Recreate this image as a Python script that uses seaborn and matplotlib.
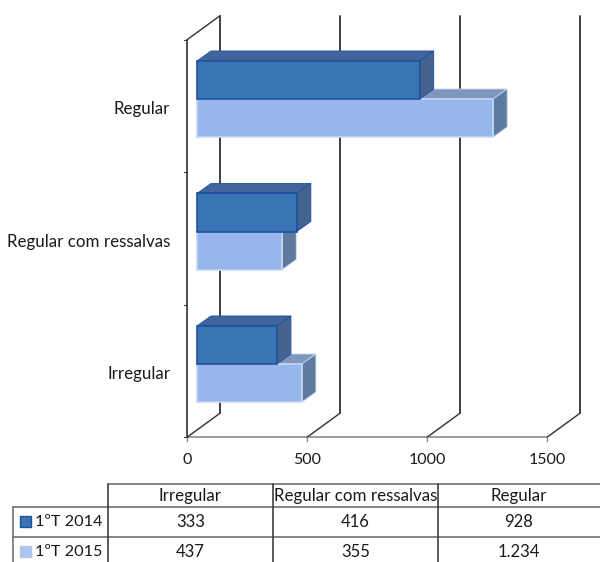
import matplotlib
matplotlib.use("Agg")
import matplotlib.pyplot as plt
from matplotlib.patches import Polygon, Rectangle
import pandas as pd
import seaborn as sns

categories = ["Regular", "Regular com ressalvas", "Irregular"]
table_order = ["Irregular", "Regular com ressalvas", "Regular"]
series = ["1ºT 2014", "1ºT 2015"]
values_2014 = [928, 416, 333]
values_2015 = [1234, 355, 437]
labels_2014 = ["333", "416", "928"]
labels_2015 = ["437", "355", "1.234"]
x_ticks = [0, 500, 1000, 1500]

# pixel scale of the original chart
px_x = 0.24        # px per unit
px_y = 132.5       # px per category
x0_px, y0_px = 197, 99

front = ["#3a75b3", "#96b6ec"]
top = ["#3f659c", "#7f95ba"]
side = ["#44648f", "#5f7a9f"]
edge = ["#1f4f9e", "#c6d6f6"]
swatch = ["#3a75b3", "#b0c4ee"]
axis_col = "#303030"
text_col = "#1a1a1a"

df = pd.DataFrame({
    "cat": categories * 2,
    "serie": [series[0]] * 3 + [series[1]] * 3,
    "val": values_2014 + values_2015,
})

sns.set_theme(style="white")
plt.rcParams["font.family"] = ["Lato", "DejaVu Sans"]
fig = plt.figure(figsize=(6, 5.62), dpi=100)
ax = fig.add_axes([0, 0, 1, 1])

sns.barplot(data=df, y="cat", x="val", hue="serie", order=categories, hue_order=series,
            palette=front, saturation=1, width=0.574, gap=0, legend=False, errorbar=None, ax=ax)
ax.set_xlim(-x0_px / px_x, (600 - x0_px) / px_x)
ax.set_ylim((562 - y0_px) / px_y, -y0_px / px_y)
ax.axis("off")


def dx(p):
    return p / px_x


def dy(p):
    return p / px_y


# 3d faces of the bars, 2015 goes behind 2014
for i, cont in enumerate(ax.containers):
    z = 6 - i * 2
    for bar in cont:
        x1 = bar.get_width()
        ya = bar.get_y()
        yb = ya + bar.get_height()
        ytop, ybot = min(ya, yb), max(ya, yb)
        bar.set_edgecolor(edge[i])
        bar.set_linewidth(1.2)
        bar.set_zorder(z + 0.5)
        ax.add_patch(Polygon([(0, ytop), (dx(14), ytop - dy(10)), (x1 + dx(14), ytop - dy(10)), (x1, ytop)],
                             closed=True, fc=top[i], ec=edge[i], lw=0.6, zorder=z))
        ax.add_patch(Polygon([(x1, ytop), (x1 + dx(14), ytop - dy(10)), (x1 + dx(14), ybot - dy(10)), (x1, ybot)],
                             closed=True, fc=side[i], ec=edge[i], lw=0.6, zorder=z))

# walls: front plane sits 10px left and 7px under the bars
wall_x = dx(-10)
wall_top, wall_bot = -0.5 + dy(7), 2.5 + dy(7)
depth_x, depth_y = dx(33), dy(24)
ax.plot([wall_x, wall_x], [wall_top, wall_bot], color=axis_col, lw=1.2, zorder=1)
ax.plot([wall_x, wall_x + depth_x], [wall_top, wall_top - depth_y], color=axis_col, lw=1, zorder=1)
ax.plot([wall_x, wall_x + dx(360)], [wall_bot, wall_bot], color="#8c8c8c", lw=1.2, zorder=1)
for v in x_ticks:
    xt = wall_x + v
    ax.plot([xt + depth_x, xt + depth_x], [wall_top - depth_y, wall_bot - depth_y], color=axis_col, lw=1.3, zorder=1)
    ax.plot([xt, xt + depth_x], [wall_bot, wall_bot - depth_y], color=axis_col, lw=1, zorder=1)
    ax.plot([xt, xt], [wall_bot, wall_bot + dy(4)], color="#8c8c8c", lw=1, zorder=1)
    ax.text(xt, wall_bot + dy(23), str(v), ha="center", va="center", fontsize=11.5, color=text_col)
for k in range(4):
    yt = wall_top + k
    ax.plot([wall_x - dx(3), wall_x], [yt, yt], color=axis_col, lw=0.8, zorder=1)
for k, cat in enumerate(categories):
    ax.text(dx(170 - x0_px), k + dy(10), cat, ha="right", va="center", fontsize=12.2, color=text_col)

# table under the chart, in plain pixels
tb = fig.add_axes([0, 0, 1, 1], facecolor="none")
tb.set_xlim(0, 600)
tb.set_ylim(562, 0)
tb.axis("off")
line = "#6f6f78"
col_x = [108, 273, 438, 600]
row_y = [484, 507, 537, 562]
tb.plot([col_x[0], 600], [row_y[0], row_y[0]], color=line, lw=1.2)
tb.plot([13, 600], [row_y[1], row_y[1]], color=line, lw=1.2)
tb.plot([13, 600], [row_y[2], row_y[2]], color=line, lw=1.2)
tb.plot([13, 13], [row_y[1], 562], color=line, lw=1.2)
for c in col_x[:3]:
    tb.plot([c, c], [row_y[0], 562], color="#3c3c44", lw=1.2)
for c, name, a, b in zip(range(3), table_order, labels_2014, labels_2015):
    cx = (col_x[c] + col_x[c + 1]) / 2
    tb.text(cx, 496, name, ha="center", va="center", fontsize=12.2, color=text_col)
    tb.text(cx, 522, a, ha="center", va="center", fontsize=12, color=text_col)
    tb.text(cx, 552, b, ha="center", va="center", fontsize=12, color=text_col)
for i, s in enumerate(series):
    y_mid = 522 + i * 30
    tb.add_patch(Rectangle((20, y_mid - 6), 11, 11, fc=swatch[i], ec=edge[i] if i == 0 else swatch[i], lw=1))
    tb.text(35, y_mid, s, ha="left", va="center", fontsize=11.7, color=text_col)

fig.savefig("out.png", dpi=100)
